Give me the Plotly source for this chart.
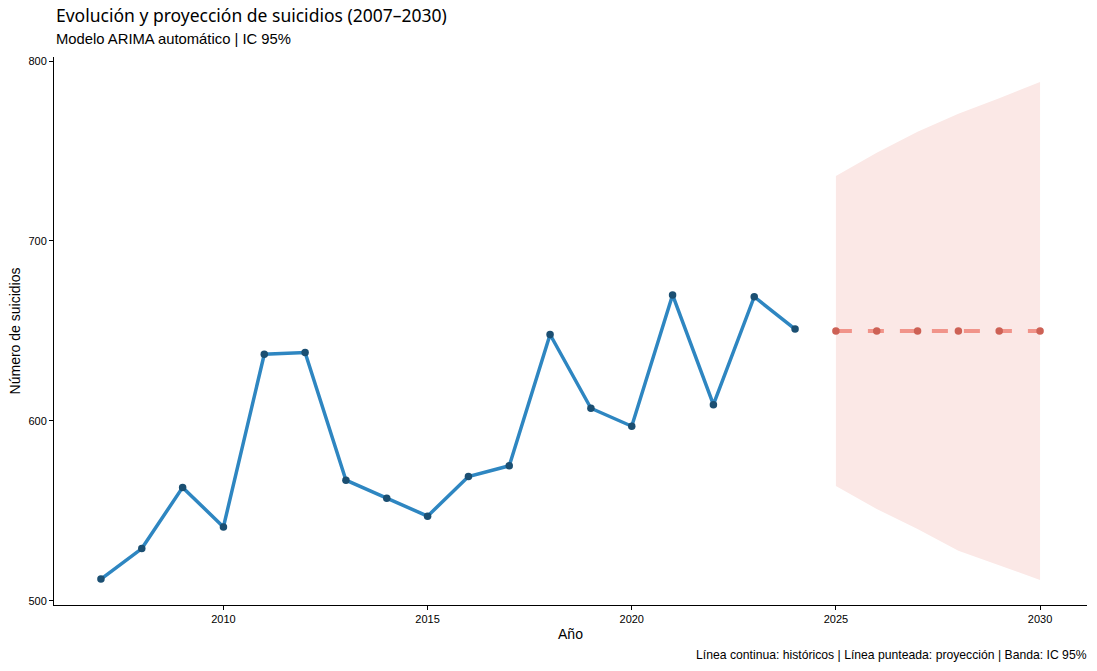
import plotly.graph_objects as go

# Datos históricos (lectura del gráfico)
anios_hist = [2007, 2008, 2009, 2010, 2011, 2012, 2013, 2014, 2015, 2016, 2017, 2018,
              2019, 2020, 2021, 2022, 2023, 2024]
suicidios = [512, 529, 563, 541, 637, 638, 567, 557, 547, 569, 575, 648,
             607, 597, 670, 609, 669, 651]

# Proyección ARIMA con IC 95%
anios_proy = [2025, 2026, 2027, 2028, 2029, 2030]
proyeccion = [650, 650, 650, 650, 650, 650]
ic_inf = [563.8, 551.0, 539.9, 527.8, 519.5, 511.5]
ic_sup = [736.2, 749.0, 760.8, 770.8, 779.4, 788.4]

fig = go.Figure()

# Banda del intervalo de confianza
fig.add_trace(go.Scatter(x=anios_proy + anios_proy[::-1], y=ic_sup + ic_inf[::-1],
                         fill="toself", fillcolor="#FBE8E6", line=dict(width=0),
                         mode="lines", hoverinfo="skip", showlegend=False))

# Serie histórica
fig.add_trace(go.Scatter(x=anios_hist, y=suicidios, mode="lines+markers",
                         line=dict(color="#2E86C1", width=3.5),
                         marker=dict(color="#1B4F72", size=7.5), showlegend=False))

# Proyección
fig.add_trace(go.Scatter(x=anios_proy, y=proyeccion, mode="lines",
                         line=dict(color="#F1948A", width=4, dash="16px,16px"),
                         showlegend=False))
fig.add_trace(go.Scatter(x=anios_proy, y=proyeccion, mode="markers",
                         marker=dict(color="#CD6155", size=7.5), showlegend=False))

eje = dict(showline=True, linecolor="black", linewidth=1, showgrid=False, zeroline=False,
           ticks="outside", ticklen=4, tickcolor="black",
           tickfont=dict(family="Liberation Sans", size=11, color="black"))

fig.update_xaxes(range=[2005.85, 2031.15], tickvals=[2010, 2015, 2020, 2025, 2030],
                 title=dict(text="Año", font=dict(family="Liberation Sans", size=14, color="black"),
                            standoff=4), **eje)
fig.update_yaxes(range=[497.6, 802.3], tickvals=[500, 600, 700, 800],
                 title=dict(text="Número de suicidios",
                            font=dict(family="Liberation Sans", size=14, color="black"),
                            standoff=4), **eje)

fig.update_layout(
    width=1097, height=671,
    plot_bgcolor="white", paper_bgcolor="white",
    margin=dict(l=54, r=10, t=57, b=66),
    annotations=[
        dict(text="Evolución y proyección de suicidios (2007–2030)", xref="paper", yref="paper",
             x=0, y=1, yshift=42, xanchor="left", yanchor="middle", showarrow=False,
             font=dict(family="Noto Sans", size=17.5, color="black")),
        dict(text="Modelo ARIMA automático | IC 95%", xref="paper", yref="paper",
             x=0, y=1, yshift=18, xanchor="left", yanchor="middle", showarrow=False,
             font=dict(family="Liberation Sans", size=14.8, color="black")),
        dict(text="Línea continua: históricos | Línea punteada: proyección | Banda: IC 95%",
             xref="paper", yref="paper", x=1, y=0, xshift=2, yshift=-50, xanchor="right",
             yanchor="middle", showarrow=False,
             font=dict(family="Liberation Sans", size=12.2, color="black")),
    ],
)

# Quitar el margen del body para que la figura ocupe toda la ventana
fig.write_html("out.html", config={"displayModeBar": False},
               post_script="document.body.style.margin='0';")
